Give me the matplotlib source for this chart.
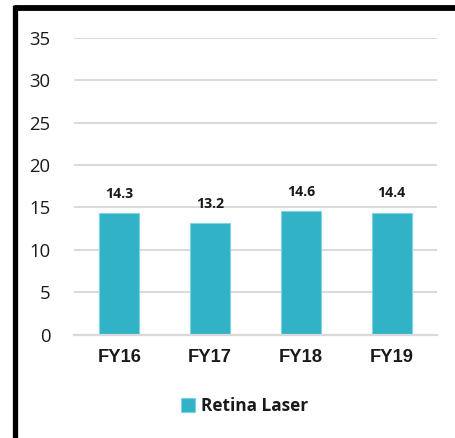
import matplotlib
matplotlib.use("Agg")
import matplotlib.pyplot as plt
from matplotlib.lines import Line2D

years = ["FY16", "FY17", "FY18", "FY19"]
retina_laser = [14.3, 13.2, 14.6, 14.4]
y_ticks = [0, 5, 10, 15, 20, 25, 30, 35]

bar_color = "#31b2c6"
grid_color = "#d9d9d9"

fig = plt.figure(figsize=(4.55, 4.38), dpi=100)
ax = fig.add_axes([0.1626, 0.2358, 0.7978, 0.6782])

bars = ax.bar(range(len(years)), retina_laser, width=0.44, color=bar_color,
              edgecolor="#7fd3e0", linewidth=0.8, label="Retina Laser", zorder=3)

for rect, val in zip(bars, retina_laser):
    ax.annotate(f"{val}", (rect.get_x() + rect.get_width() / 2, val),
                xytext=(0, 13.7), textcoords="offset points",
                ha="center", va="center", fontsize=10.2, fontweight="bold",
                family="Open Sans", color="#1a1a1a")

ax.set_xlim(-0.5, len(years) - 0.5)
ax.set_ylim(0, 35)
ax.set_yticks(y_ticks)
ax.set_yticklabels([str(t) for t in y_ticks], family="Open Sans", fontsize=13.3,
                   color="#1a1a1a")
ax.set_xticks(range(len(years)))
ax.set_xticklabels(years, family="Liberation Sans", fontweight="bold",
                   fontsize=13.2, color="#1a1a1a")
ax.tick_params(axis="both", length=0)
ax.tick_params(axis="x", pad=10)
ax.tick_params(axis="y", pad=17)

ax.yaxis.grid(True, color=grid_color, linewidth=1.4, zorder=0)
for side in ["top", "right", "left"]:
    ax.spines[side].set_visible(False)
ax.spines["bottom"].set_color(grid_color)
ax.spines["bottom"].set_linewidth(1.6)
ax.spines["bottom"].set_zorder(4)

leg = fig.legend(handles=[bars], labels=["Retina Laser"], loc="center",
                 bbox_to_anchor=(0.538, (438 - 406) / 438), frameon=False,
                 handlelength=0.8, handleheight=0.8, handletextpad=0.35,
                 prop={"family": "Open Sans", "weight": "bold", "size": 12.4})
for t in leg.get_texts():
    t.set_color("#1a1a1a")

# thick black frame on the top and left edges
fig.add_artist(Line2D([14.7 / 455, 1.0], [1 - 8 / 438, 1 - 8 / 438],
                      transform=fig.transFigure, color="black", linewidth=4.2,
                      solid_capstyle="butt"))
fig.add_artist(Line2D([14.7 / 455, 14.7 / 455], [0.0, 1 - 5 / 438],
                      transform=fig.transFigure, color="black", linewidth=3.8,
                      solid_capstyle="butt"))

fig.savefig("out.png", dpi=100)
